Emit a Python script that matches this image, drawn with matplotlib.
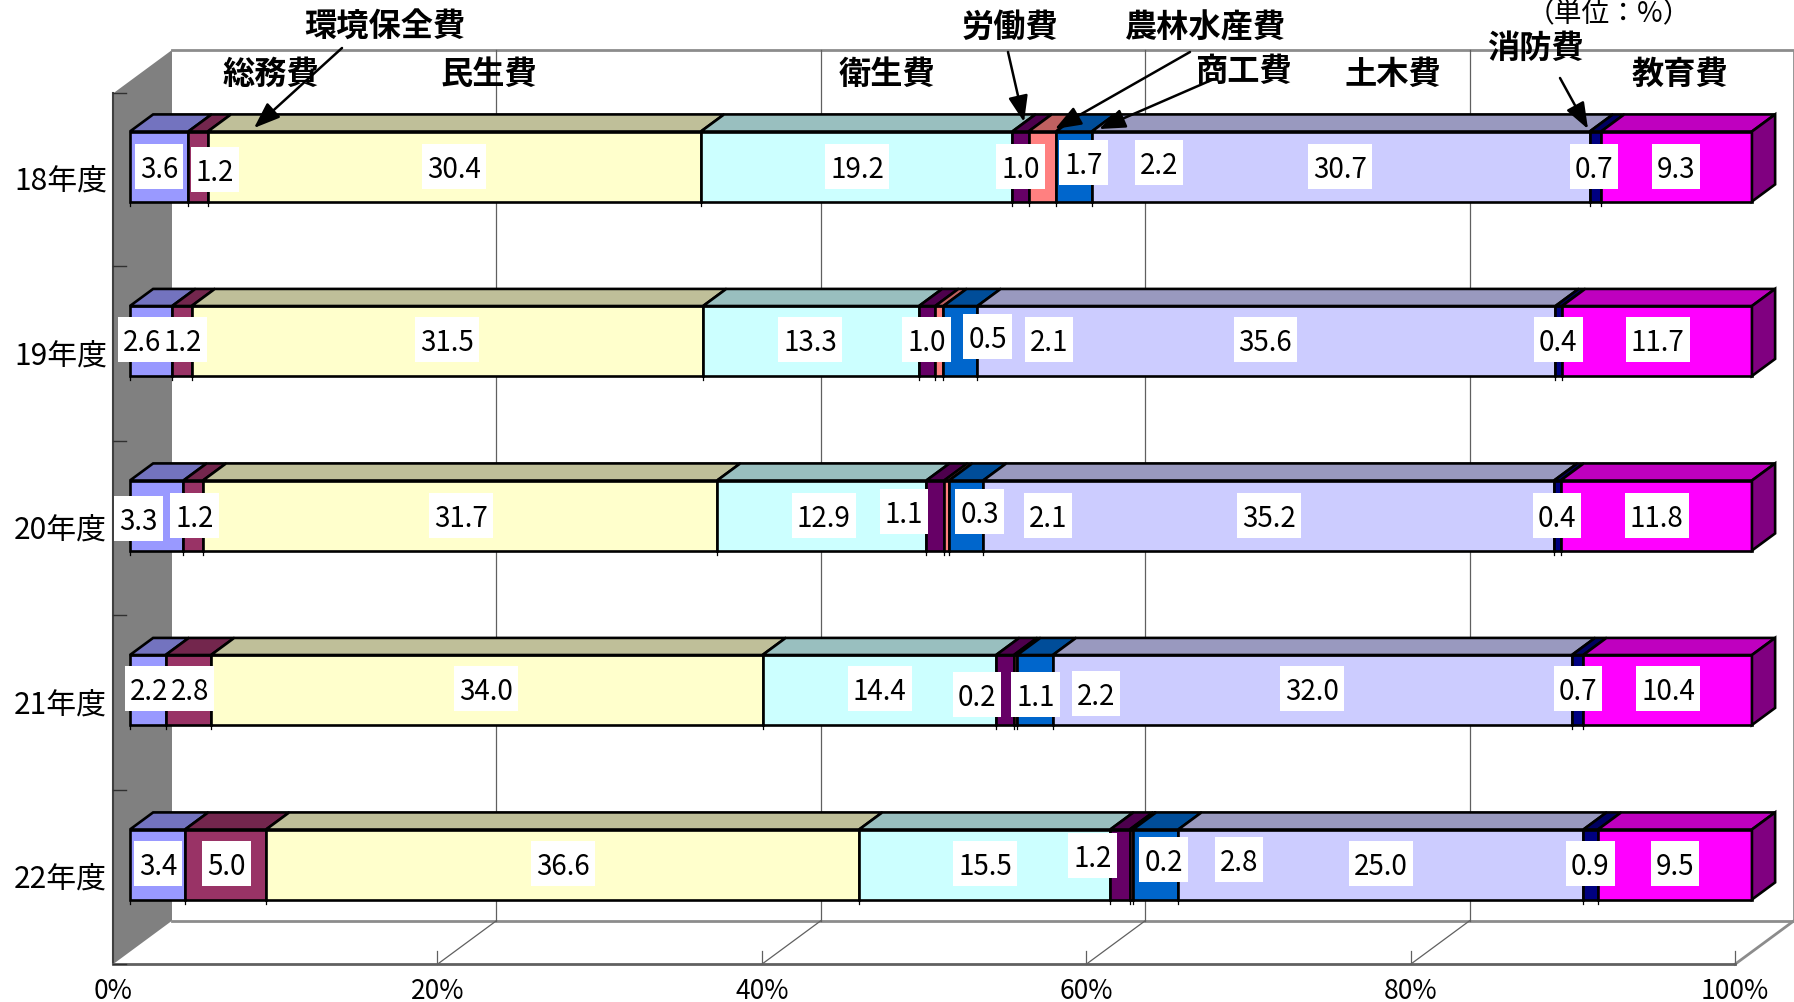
import numpy as np
import matplotlib
matplotlib.use("Agg")
import matplotlib.pyplot as plt
from matplotlib.patches import Rectangle

plt.rcParams['font.family'] = ['Noto Sans CJK JP', 'DejaVu Sans']

# Data
years = ['18年度', '19年度', '20年度', '21年度', '22年度']
soumu = [3.6, 2.6, 3.3, 2.2, 3.4]
kankyo = [1.2, 1.2, 1.2, 2.8, 5.0]
minsei = [30.4, 31.5, 31.7, 34.0, 36.6]
eisei = [19.2, 13.3, 12.9, 14.4, 15.5]
roudou = [1.0, 1.0, 1.1, 1.1, 1.2]
norin = [1.7, 0.5, 0.3, 0.2, 0.2]
shoko = [2.2, 2.1, 2.1, 2.2, 2.8]
doboku = [30.7, 35.6, 35.2, 32.0, 25.0]
shobo = [0.7, 0.4, 0.4, 0.7, 0.9]
kyoiku = [9.3, 11.7, 11.8, 10.4, 9.5]
pct_ticks = [0, 20, 40, 60, 80, 100]

series = [soumu, kankyo, minsei, eisei, roudou, norin, shoko, doboku, shobo, kyoiku]
front_colors = ['#9999FF', '#993366', '#FFFFCC', '#CCFFFF', '#660066',
                '#FF8080', '#0066CC', '#CCCCFF', '#000080', '#FF00FF']
top_colors = ['#7373BF', '#73264D', '#BFBF99', '#99BFBF', '#4D004D',
              '#BF6060', '#004D99', '#9999BF', '#000060', '#BF00BF']
side_color = '#800080'

# Layout, in pixels of the 1794x1003 picture
W, H = 1794, 1003
PX_PCT = 16.22     # pixels per percent
PX_CAT = 174.5     # pixels per category
X0, Y0 = 113, 180  # 0% and first category on the front of the floor
DEPTH_X, DEPTH_Y = 59 / PX_PCT, 43.5 / PX_CAT
BAR_D0, BAR_D1 = 0.287, 0.68
BAR_H = 70 / PX_CAT
TXT = 1794 / 1568  # label positions below were read at 1568 wide
TEXT_DROP = 2.5    # the CJK font sits a little high when centred

# label centres per year
label_x = [
    [139, 188, 397, 749, 892, 947, 1013, 1171, 1393, 1465],
    [124, 160, 391, 708, 810, 863, 917, 1106, 1362, 1449],
    [121, 170, 403, 720, 790, 856, 916, 1109, 1361, 1448],
    [130, 166, 425, 769, 905, 854, 958, 1147, 1379, 1458],
    [138, 198, 492, 861, 955, 1017, 1083, 1207, 1390, 1464],
]
label_y = [
    [146, 149, 146, 146, 146, 143, 143, 146, 146, 146],
    [298, 298, 298, 298, 298, 295, 298, 298, 298, 298],
    [454, 451, 451, 451, 448, 448, 451, 451, 451, 451],
    [603, 603, 603, 603, 608, 608, 607, 603, 603, 603],
    [756, 756, 756, 756, 749, 752, 752, 756, 756, 756],
]

# header text and arrows (from, tip)
heads = [('環境保全費', 336, 22), ('総務費', 237, 63), ('民生費', 427, 63), ('衛生費', 775, 63),
         ('労働費', 883, 22), ('農林水産費', 1054, 22), ('商工費', 1087, 60), ('土木費', 1217, 63),
         ('消防費', 1342, 40), ('教育費', 1468, 63)]
arrows = [((342, 49), (254, 129)), ((1008, 53), (1024, 123)), ((1190, 53), (1055, 130)),
          ((1214, 80), (1099, 130)), ((1560, 79), (1588, 130))]


def px(x, y):
    return (x - X0) / PX_PCT, (y - Y0) / PX_CAT


def proj(pct, cat, d):
    # oblique projection: d=0 front of the floor, d=1 back wall
    return pct + d * DEPTH_X, cat - d * DEPTH_Y


fig = plt.figure(figsize=(W / 100, H / 100), dpi=100)
ax = fig.add_axes([0, 0, 1, 1])
ax.set_xlim(-X0 / PX_PCT, (W - X0) / PX_PCT)
ax.set_ylim((H - Y0) / PX_CAT, -Y0 / PX_CAT)
ax.axis('off')

# left wall
top, bottom = -0.49, len(years) - 0.5
wall = [proj(0, bottom, 0), proj(0, bottom, 1), proj(0, top, 1), proj(0, top, 0)]
ax.fill(*zip(*wall), facecolor='#808080', edgecolor='none', zorder=1)
ax.plot(*zip(proj(0, top, 0), proj(0, bottom, 0)), color='#404040', lw=1.5, zorder=2)

# back wall and floor outline
outline = [proj(0, top, 1), proj(100, top, 1), proj(100, bottom, 1), proj(0, bottom, 1)]
ax.plot(*zip(*outline), color='#8c8c8c', lw=2, zorder=1)
ax.plot(*zip(proj(100, bottom, 1), proj(100, bottom, 0)), color='#8c8c8c', lw=2, zorder=1)
ax.plot(*zip(proj(0, bottom, 0), proj(100, bottom, 0)), color='#606060', lw=2, zorder=2)

# gridlines, floor diagonals and ticks
for p in pct_ticks:
    if 0 < p < 100:
        ax.plot(*zip(proj(p, top, 1), proj(p, bottom, 1)), color='#606060', lw=0.9, zorder=1)
    if p > 0:
        if p < 100:
            ax.plot(*zip(proj(p, bottom, 1), proj(p, bottom, 0)), color='#606060', lw=0.9, zorder=1)
        ax.plot([p, p], [bottom, bottom - 13 / PX_CAT], color='#606060', lw=0.9, zorder=1)
    ax.text(p, bottom + 26 / PX_CAT, f'{p}%', ha='center', va='center', fontsize=19, color='black')

# wall ticks
for i in range(len(years) + 1):
    x0, y0 = proj(0, max(i - 0.5, top), 0)
    ax.plot([x0, x0 + 13 / PX_PCT], [y0, y0], color='#303030', lw=1, zorder=2)

# bars
shift_x, shift_y = proj(0, 0, BAR_D0)
dx = (BAR_D1 - BAR_D0) * DEPTH_X
dy = (BAR_D1 - BAR_D0) * DEPTH_Y
for r in range(len(years)):
    vals = np.array([s[r] for s in series])
    vals = vals / vals.sum() * 100
    left = 0
    yc = r + shift_y
    yt, yb = yc - BAR_H / 2, yc + BAR_H / 2
    for v, fc, tc in zip(vals, front_colors, top_colors):
        ax.barh(yc, v, left=left + shift_x, height=BAR_H, color=fc, edgecolor='black', lw=1.9, zorder=3)
        xl, xr = left + shift_x, left + v + shift_x
        ax.fill([xl, xr, xr + dx, xl + dx], [yt, yt, yt - dy, yt - dy],
                facecolor=tc, edgecolor='black', lw=1.9, zorder=3, joinstyle='miter')
        # small tick under each segment edge
        ax.plot([xl, xl], [yb, yb + 4 / PX_CAT], color='black', lw=0.9, zorder=3)
        left += v
    xr = 100 + shift_x
    ax.fill([xr, xr + dx, xr + dx, xr], [yt, yt - dy, yb - dy, yb],
            facecolor=side_color, edgecolor='black', lw=1.9, zorder=3, joinstyle='miter')

    ax.text(*px(107, Y0 + r * PX_CAT + TEXT_DROP), years[r], ha='right', va='center', fontsize=21.5, zorder=5)

    for s in range(len(series)):
        ax.text(*px(label_x[r][s] * TXT, label_y[r][s] * TXT + TEXT_DROP), f'{series[s][r]:.1f}',
                ha='center', va='center', fontsize=20, color='black', zorder=5)

# white boxes behind the value labels: wider than the text, 45 px high
fig.canvas.draw()
renderer = fig.canvas.get_renderer()
for t in list(ax.texts):
    if t.get_fontsize() != 20:
        continue
    box = t.get_window_extent(renderer)
    xc, yc = t.get_position()
    w = (box.width + 10) / PX_PCT
    h = 45 / PX_CAT
    ax.add_patch(Rectangle((xc - w / 2, yc - TEXT_DROP / PX_CAT - h / 2), w, h,
                           facecolor='white', edgecolor='none', zorder=4))

# headers
for name, x, y in heads:
    ax.text(*px(x * TXT, y * TXT + TEXT_DROP), name, ha='center', va='center', fontsize=23.2,
            fontweight='bold', zorder=6)
ax.text(*px(1406 * TXT, 10 * TXT + TEXT_DROP), '（単位：%）', ha='center', va='center', fontsize=20, zorder=6)

for start, tip in arrows:
    ax.annotate('', xy=px(*tip), xytext=px(*start), zorder=6,
                arrowprops=dict(arrowstyle='-|>,head_length=0.8,head_width=0.3', color='black',
                                lw=1.8, shrinkA=0, shrinkB=0, mutation_scale=20))

fig.savefig('out.png', dpi=100)
